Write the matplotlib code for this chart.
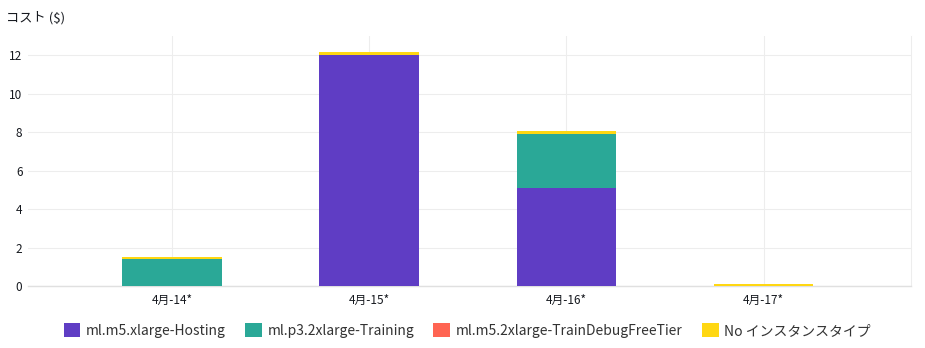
import matplotlib
matplotlib.use("Agg")
import matplotlib.pyplot as plt
import numpy as np

plt.rcParams['font.family'] = ['Noto Sans CJK JP', 'DejaVu Sans']

categories = ['4月-14*', '4月-15*', '4月-16*', '4月-17*']
series_names = ['ml.m5.xlarge-Hosting', 'ml.p3.2xlarge-Training',
                'ml.m5.2xlarge-TrainDebugFreeTier', 'No インスタンスタイプ']
hosting = [0.0, 12.0, 5.08, 0.0]
training = [1.42, 0.0, 2.82, 0.0]
debug = [0.0, 0.0, 0.0, 0.0]
no_type = [0.07, 0.14, 0.14, 0.1]
colors = ['#5f3dc4', '#2aa897', '#ff6452', '#ffd712']
yticks = [0, 2, 4, 6, 8, 10, 12]

fig = plt.figure(figsize=(9.25, 3.48), dpi=100)
ax = fig.add_axes([0.0303, 0.178, 0.955, 0.719])

x = np.arange(len(categories))
bottom = np.zeros(len(categories))
handles = []
for vals, col, name in zip([hosting, training, debug, no_type], colors, series_names):
    b = ax.bar(x, vals, width=0.505, bottom=bottom, color=col, label=name,
               edgecolor='none', zorder=5, clip_on=False)
    bottom += np.array(vals)
    handles.append(b)

ax.set_xlim(-0.73, 3.75)
ax.set_ylim(0, 13)
ax.set_yticks(yticks)
ax.set_xticks(x)
ax.set_xticklabels(categories)
ax.tick_params(axis='both', length=0, labelsize=8.5, colors='#16191f', pad=6)
ax.tick_params(axis='y', pad=4)
ax.grid(True, color='#ededed', linewidth=0.8, zorder=0)
for s in ['top', 'left']:
    ax.spines[s].set_visible(False)
ax.spines['right'].set_color('#ededed')
ax.spines['bottom'].set_color('#e0e0e0')
ax.spines['right'].set_linewidth(0.8)
ax.spines['bottom'].set_linewidth(1.0)
ax.spines['bottom'].set_zorder(1)
ax.spines['right'].set_zorder(1)

fig.text(0.006, 0.95, 'コスト ($)', fontsize=9.5, color='#16191f', va='center', ha='left')

fig.legend(handles=handles, labels=series_names, loc='center', bbox_to_anchor=(0.505, 0.05),
           ncol=4, frameon=False, fontsize=10, handlelength=1.2, handleheight=1.2,
           handletextpad=0.4, columnspacing=1.4, labelcolor='#333333')

fig.savefig('out.png', dpi=100)
